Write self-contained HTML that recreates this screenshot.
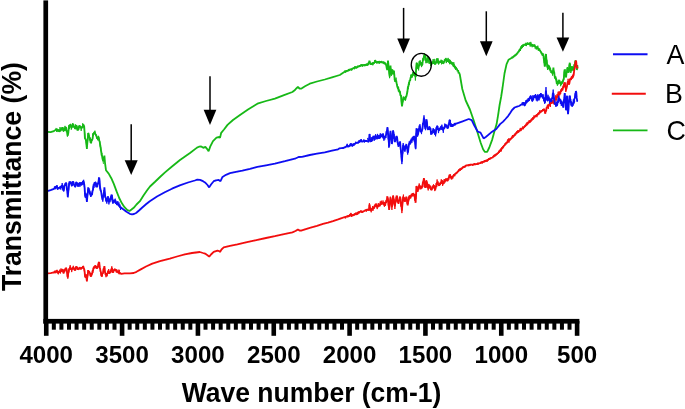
<!DOCTYPE html>
<html><head><meta charset="utf-8"><title>FTIR</title>
<style>
html,body{margin:0;padding:0;background:#fff;}
body{width:685px;height:409px;overflow:hidden;}
svg{display:block;will-change:transform;}
text{font-family:"Liberation Sans",sans-serif;fill:#000;}
</style></head><body>
<svg width="685" height="409" viewBox="0 0 685 409">
<defs><filter id="soft" x="0" y="0" width="685" height="409" filterUnits="userSpaceOnUse"><feGaussianBlur stdDeviation="0.35"/></filter><filter id="soft2" x="0" y="0" width="685" height="409" filterUnits="userSpaceOnUse"><feGaussianBlur stdDeviation="0.3"/></filter></defs>
<rect width="685" height="409" fill="#fff"/>
<g fill="none" stroke-linejoin="bevel" stroke-linecap="round" stroke-width="1.8" filter="url(#soft)">
<polyline stroke="#16b816" points="47.3,131.8 50.6,132.2 53.9,131.1 56.5,129.1 56.9,130.7 57.3,129.4 57.9,131.1 58.4,131.4 58.7,129.5 59.2,131.6 59.5,129.4 60.0,130.7 60.5,129.8 61.0,128.8 61.5,130.1 61.9,127.8 62.5,127.8 62.9,127.9 63.3,130.5 63.8,131.1 64.2,129.6 64.6,130.8 65.0,127.7 65.4,129.2 65.8,127.2 66.2,127.8 66.7,132.1 67.1,131.6 67.6,135.5 67.8,135.7 68.3,132.9 68.8,128.2 69.1,126.5 69.6,125.0 70.1,125.9 70.4,124.3 70.8,124.6 71.3,127.7 71.7,127.8 72.1,126.2 72.6,126.7 73.0,124.5 73.4,124.5 74.0,127.5 74.4,126.2 75.0,128.5 75.5,128.5 75.9,126.0 76.3,125.8 76.8,125.9 77.3,129.5 78.0,129.8 78.5,129.6 78.9,127.1 79.6,126.1 80.1,125.8 80.5,127.9 80.9,126.8 81.6,128.5 82.1,127.0 82.5,127.2 82.9,125.6 83.4,127.1 83.9,125.6 84.2,126.5 84.7,134.2 84.9,138.4 85.4,138.8 86.0,140.4 86.4,143.8 86.9,148.9 87.3,143.1 87.7,139.5 88.2,133.1 88.6,133.6 89.0,136.3 89.5,137.7 90.0,138.6 90.5,142.1 90.8,143.0 91.2,142.7 91.7,139.9 92.2,139.7 92.6,138.8 93.1,134.7 93.5,133.1 93.9,133.6 94.4,132.1 94.8,132.4 95.3,134.5 95.8,134.3 96.1,135.7 96.6,136.1 97.0,138.7 97.4,138.4 97.9,139.1 98.3,136.8 98.8,137.7 99.3,140.9 99.7,141.7 100.1,144.3 100.5,146.4 101.0,150.6 101.4,152.2 101.8,155.8 102.2,156.0 102.7,159.5 103.2,161.0 103.6,160.8 104.1,158.9 104.4,155.5 105.0,162.8 106.0,170.3 108.7,173.6 111.3,178.2 113.9,184.1 116.6,191.4 119.2,198.0 121.9,203.3 124.5,207.2 127.1,209.9 129.5,211.0 131.5,209.5 133.7,207.8 136.5,204.5 139.9,201.2 143.5,195.5 147.3,190.0 150.0,186.5 154.8,182.0 160.0,177.0 165.0,172.4 172.0,166.5 180.0,160.0 190.0,153.0 197.0,147.6 199.0,146.7 201.2,146.4 203.3,147.8 205.4,146.9 207.0,148.8 208.6,151.3 210.3,146.4 213.0,141.1 216.5,137.6 219.2,137.0 220.0,137.9 221.2,132.8 224.0,129.5 227.5,124.9 233.0,120.0 240.0,114.9 248.0,109.5 257.4,103.7 266.0,101.0 274.9,98.7 284.0,95.2 292.4,92.0 295.0,90.0 296.1,88.7 297.9,87.0 299.5,88.5 301.1,88.7 305.0,86.3 309.8,83.7 317.0,81.5 324.8,79.5 332.0,77.3 339.8,75.0 345.0,71.6 345.5,71.8 346.0,70.9 346.5,71.7 346.9,70.3 347.4,71.3 347.9,70.1 348.4,70.9 348.9,69.4 349.5,70.2 350.1,69.6 350.5,69.2 351.1,69.8 351.7,68.6 352.2,69.4 352.7,68.1 353.1,68.7 353.6,67.6 354.1,68.7 354.6,67.4 355.1,67.6 355.7,66.9 356.1,67.6 356.7,66.8 357.1,67.7 357.6,66.5 358.0,67.0 358.6,66.2 359.2,66.7 359.8,65.5 360.1,66.0 360.6,65.6 361.1,66.0 361.5,65.0 361.9,66.1 362.4,65.1 362.8,66.0 363.4,64.5 363.9,65.4 364.4,64.3 364.9,65.4 365.1,64.8 365.6,65.1 366.0,64.4 366.5,65.4 366.9,64.1 367.5,65.2 368.1,64.5 368.6,62.8 369.1,62.2 369.4,60.8 369.9,62.7 370.4,63.5 370.6,64.5 371.0,63.8 371.5,64.4 372.0,63.6 372.5,64.2 373.1,63.5 373.5,63.9 373.9,62.3 374.3,62.8 374.9,61.5 375.1,60.0 375.5,61.7 376.1,62.5 376.7,61.7 377.1,62.7 377.7,61.6 378.2,62.8 378.8,61.5 379.1,62.0 379.6,61.5 380.1,62.5 380.5,61.5 381.1,62.8 381.6,61.8 382.2,62.5 382.7,62.2 383.1,63.2 383.6,62.3 384.0,63.3 384.4,62.6 384.7,63.0 385.3,63.3 385.8,64.8 386.2,65.0 386.7,68.1 387.2,70.0 387.7,64.0 388.0,60.5 388.4,64.4 388.7,68.0 389.2,73.2 389.7,76.6 390.1,70.5 390.5,65.5 390.9,70.7 391.4,74.6 391.9,73.0 392.4,69.6 392.9,73.6 393.2,74.1 393.9,70.6 394.3,74.6 394.7,80.1 395.2,79.2 395.7,81.2 396.2,80.6 396.6,83.2 397.2,86.0 397.7,87.9 398.2,87.0 398.6,90.4 399.0,90.1 399.5,92.4 400.0,91.7 400.4,95.6 400.9,95.0 401.1,96.3 401.5,102.0 402.0,106.5 402.5,102.8 402.9,101.4 403.4,97.2 403.8,96.9 404.1,99.4 404.6,97.8 405.1,99.8 405.5,99.1 406.0,96.1 406.5,96.4 406.9,93.7 407.4,91.8 407.9,86.9 408.4,86.4 408.7,84.0 409.1,83.4 409.6,80.4 410.1,80.9 410.6,77.5 411.1,77.7 411.3,76.1 411.8,74.7 412.1,76.2 412.6,74.0 413.0,75.6 413.5,72.9 413.9,73.4 414.3,73.8 414.7,76.1 415.3,74.9 415.7,77.0 416.2,67.3 416.6,62.9 417.1,65.2 417.5,64.6 417.9,67.9 418.3,68.2 418.7,65.9 419.2,66.0 419.7,61.9 420.1,62.0 420.5,63.9 421.0,62.7 421.5,65.7 421.9,65.5 422.4,64.3 422.9,59.5 423.4,59.4 423.6,57.6 424.1,57.7 424.5,54.7 425.0,55.0 425.4,56.1 425.9,60.3 426.3,61.1 426.8,59.5 427.3,60.8 427.7,58.0 428.1,58.6 428.5,58.2 428.9,60.9 429.5,61.7 430.0,61.4 430.4,63.7 430.8,63.5 431.3,64.1 431.8,62.4 432.4,62.9 432.8,63.8 433.2,61.4 433.7,62.7 434.0,61.3 434.4,63.3 434.8,62.5 435.2,64.5 435.7,62.0 436.1,63.3 436.5,59.3 436.9,59.5 437.4,59.3 437.8,61.5 438.2,60.8 438.7,62.4 439.1,63.4 439.5,61.5 439.9,62.8 440.3,61.1 440.7,62.6 441.3,61.3 441.7,60.5 442.2,63.4 442.7,61.7 443.2,63.5 443.5,63.2 443.9,61.5 444.3,62.3 444.7,59.6 445.3,59.7 445.8,58.7 446.2,61.1 446.7,58.9 447.1,61.6 447.5,60.6 447.9,59.7 448.4,61.8 449.0,59.9 449.3,62.6 449.7,60.7 450.1,61.5 450.5,61.2 450.9,63.5 451.4,62.2 451.8,64.3 452.2,62.7 452.6,64.3 452.8,64.0 453.3,65.7 453.8,64.2 454.2,66.9 454.5,66.2 455.0,66.3 455.5,68.6 455.9,67.1 456.4,69.7 456.8,68.4 457.2,69.8 457.6,71.4 458.1,70.2 458.6,73.4 459.1,72.5 459.8,74.5 462.3,89.0 465.7,100.5 469.9,109.5 473.2,119.0 477.0,130.8 480.5,142.2 483.1,149.3 484.9,151.9 487.2,151.9 489.3,147.5 492.2,139.6 494.4,131.5 496.6,124.1 498.1,115.1 499.6,105.0 501.1,97.0 502.5,88.0 504.5,73.5 506.5,64.4 508.6,59.7 511.9,57.7 512.3,58.0 512.9,56.8 513.3,57.4 513.8,56.0 514.4,56.3 514.9,55.2 515.3,55.8 515.8,55.1 516.4,53.9 516.8,54.4 517.2,53.0 517.7,53.2 518.2,51.7 518.7,51.9 519.3,50.1 519.8,49.8 520.2,49.6 520.7,47.9 521.3,48.2 521.7,46.6 522.2,47.1 522.8,45.0 523.1,45.2 523.6,45.7 524.1,44.6 524.5,45.2 525.0,44.2 525.5,44.7 526.0,43.8 526.4,44.2 526.9,43.8 527.4,44.6 527.9,43.8 528.5,44.4 528.7,44.0 529.1,44.5 529.7,43.4 530.3,44.8 531.0,44.2 531.6,44.8 532.1,44.3 532.7,45.7 533.2,44.8 533.7,46.3 534.3,46.0 534.8,45.6 535.3,46.9 535.7,46.3 536.2,47.8 536.7,47.0 537.2,48.0 537.6,48.0 538.1,48.3 538.6,49.6 539.1,49.4 539.5,50.8 540.0,50.5 540.6,51.7 540.9,51.8 541.5,53.2 542.0,53.3 542.6,55.5 543.1,55.2 543.5,56.4 544.8,66.6 545.3,62.7 545.8,54.8 546.0,54.0 546.4,59.2 546.8,61.2 547.2,66.5 547.7,67.6 548.0,65.0 548.4,67.1 548.8,66.3 549.3,66.7 549.6,69.7 550.1,67.7 550.5,71.4 550.8,70.9 551.2,72.8 551.7,71.0 552.2,73.4 552.6,73.0 553.0,71.3 553.4,67.6 553.8,71.7 554.2,72.1 554.7,76.5 555.1,78.7 555.6,76.6 555.8,78.5 556.3,79.4 556.7,83.4 557.0,83.5 557.4,81.8 557.8,83.2 558.2,81.1 558.6,81.0 559.0,82.6 559.4,80.2 559.7,83.2 560.0,82.4 560.5,81.8 561.0,84.0 561.5,82.2 562.1,83.5 562.5,81.1 562.8,82.3 563.2,79.7 563.5,80.0 563.9,77.7 564.3,71.7 564.6,69.7 565.0,72.7 565.5,72.6 565.9,77.0 566.1,77.0 566.5,72.9 566.9,72.0 567.4,67.5 567.9,70.8 568.2,70.1 568.6,72.6 569.0,71.0 569.3,65.1 569.8,62.8 570.2,66.5 570.6,67.8 570.9,70.8 571.4,68.3 572.0,67.6 572.4,67.0 572.8,70.2 573.3,70.0 573.8,69.0 574.5,64.0 574.9,64.1 575.3,60.6 575.7,61.2 576.1,65.0 576.4,65.9 576.9,70.0 577.5,66.0"/>
<polyline stroke="#16b816" stroke-width="1.0" points="56.0,128.3 56.5,131.8 57.0,128.5 57.5,131.2 58.0,129.3 58.6,131.3 59.1,130.0 59.7,132.1 60.0,127.1 60.7,131.4 61.2,128.5 61.6,130.2 61.9,127.7 62.3,128.4 62.8,127.4 63.4,131.6 64.0,129.4 64.5,130.9 65.0,125.9 65.6,130.0 66.2,127.9 66.6,131.4 67.0,130.0 67.4,136.6 67.9,132.2 68.5,131.2 68.9,125.2 69.4,128.9 69.9,124.7 70.4,126.5 70.8,125.0 71.3,129.6 71.9,126.8 72.3,126.8 72.7,123.1 73.1,126.1 73.5,124.9 74.1,127.3 74.7,127.3 75.1,128.9 75.6,124.4 76.2,127.0 76.8,126.2 77.2,130.5 77.8,128.8 78.4,129.5 78.9,125.6 79.3,127.6 79.7,125.7 80.2,127.6 80.7,126.4 81.2,130.9 81.7,126.7 82.3,127.5 82.7,123.3 83.3,126.7 83.7,124.1 84.4,129.8 85.0,136.0 85.5,140.7 85.9,139.8 86.5,146.3 87.1,145.6 87.7,140.8 88.1,133.2 88.7,135.4 89.1,134.9 89.7,140.3 90.2,137.7 90.6,142.5 91.0,141.3 91.4,142.3 91.8,139.0 92.2,140.6 92.8,133.5 93.4,135.6 93.9,132.3 94.3,133.1 94.9,130.7 95.5,134.7 96.1,134.3 96.6,137.7 97.3,137.7 97.8,140.3 98.4,135.8 99.0,140.9 99.6,140.9 100.2,147.4 100.8,147.3 101.4,154.5 101.9,153.2 102.4,159.2 102.9,159.3 103.4,163.5"/><polyline stroke="#16b816" stroke-width="1.0" points="345.0,70.4 345.6,72.6 346.2,70.4 346.9,71.2 347.6,70.3 348.2,71.1 348.7,69.0 349.3,70.9 350.1,69.1 350.5,70.0 351.2,68.8 351.7,70.6 352.3,68.0 353.1,69.0 353.7,67.7 354.3,69.3 355.0,66.1 355.6,68.4 356.1,66.9 356.7,68.5 357.5,65.7 358.2,67.1 358.7,65.7 359.2,66.7 359.8,65.1 360.4,66.5 361.1,64.0 361.7,65.9 362.1,64.0 362.6,66.6 363.2,64.7 363.9,65.4 364.4,64.2 364.8,66.3 365.3,64.4 365.7,65.8 366.3,63.6 367.0,66.0 367.7,63.4 368.2,64.9 368.7,62.5 369.3,62.3 369.8,61.5 370.3,64.8 370.9,63.4 371.6,64.7 372.3,62.2 372.8,65.3 373.5,62.9 374.0,64.0 374.8,60.4 375.4,62.3 376.1,60.8 376.7,63.5 377.2,61.1 377.9,63.3 378.6,61.7 379.3,63.8 380.1,61.3 380.8,62.8 381.6,60.9 382.1,62.8 382.7,61.7 383.4,63.5 383.8,61.4 384.3,64.3 384.7,62.5 385.4,64.3 385.9,63.8"/><polyline stroke="#16b816" stroke-width="1.0" points="389.0,68.2 389.6,78.2 390.1,68.9 390.4,67.2 390.9,69.1 391.5,75.8 392.0,69.1 392.5,71.2 393.0,70.5 393.6,72.7 394.2,71.5 394.7,81.7 395.1,78.8 395.6,82.1 396.0,77.6 396.5,83.3 397.1,83.9 397.6,88.8 398.0,86.3 398.4,91.6 399.1,89.5 399.6,92.3 400.0,90.8 400.7,96.3 401.1,95.6 401.6,105.1 402.0,104.1 402.4,104.6 402.8,99.3 403.2,99.2 403.8,97.2 404.4,99.2 404.9,98.7 405.3,100.7 405.7,96.6 406.2,97.4 406.6,94.0 407.2,94.1 407.7,87.1 408.2,89.2 408.6,82.4 409.2,85.1 409.7,80.2 410.3,79.9 410.9,74.6 411.3,76.8 411.9,74.7 412.3,77.5 412.7,72.4"/><polyline stroke="#16b816" stroke-width="1.0" points="414.0,72.1 414.5,75.2 414.9,72.7 415.4,80.5 415.8,73.9 416.3,69.6 416.8,62.6 417.1,65.3 417.5,63.5 417.9,69.1 418.3,67.2 418.6,70.4 419.2,61.2 419.6,64.6 420.1,60.3 420.7,64.4 421.1,62.0 421.5,67.1 421.8,62.7 422.4,64.2 422.8,58.3 423.2,60.2 423.6,55.6 423.9,60.6 424.5,53.3 425.0,57.4 425.4,54.7 425.9,63.2 426.4,59.8 427.0,63.1 427.5,56.2 427.9,62.5 428.5,56.7 429.0,63.6 429.4,58.7 429.8,63.4 430.2,62.0 430.6,65.7"/><polyline stroke="#16b816" stroke-width="1.0" points="431.0,62.7 431.6,65.0 432.1,61.2 432.6,64.1 433.1,59.2 433.6,63.6 434.2,58.9 434.6,64.4 435.1,63.5 435.6,63.8 436.0,61.1 436.4,61.8 437.0,58.2 437.5,63.3 438.0,58.3 438.6,64.5 438.9,60.7 439.5,62.5 440.1,61.2 440.6,62.2 441.1,59.7 441.5,64.3 442.0,60.5 442.5,63.4 442.9,60.9 443.5,64.0 444.0,61.3 444.4,62.2 444.7,60.2 445.3,60.8 445.9,57.9 446.3,63.1 446.9,59.9 447.6,61.8 448.1,57.9 448.5,62.4 449.1,59.1 449.6,64.2 450.2,59.9 450.6,63.7 451.1,61.7 451.4,64.2 451.8,61.9 452.4,64.8 452.8,62.4 453.3,66.8 453.8,62.3 454.4,68.1 454.8,66.1 455.5,69.7 456.0,67.2"/><polyline stroke="#16b816" stroke-width="1.0" points="512.0,56.9 512.6,57.9 513.3,55.9 513.8,56.8 514.5,54.9 515.3,55.6 515.7,54.8 516.3,55.1 516.7,53.3 517.2,53.5 517.9,51.8 518.5,51.9 519.1,50.5 519.6,50.9"/><polyline stroke="#16b816" stroke-width="1.0" points="520.0,49.1 520.4,51.0 520.9,46.4 521.3,48.7 521.8,45.1 522.2,48.0 522.9,44.7 523.4,46.9 524.0,43.9 524.5,45.2 525.1,44.2 525.5,45.8 526.0,42.7 526.4,46.1 526.8,43.6 527.3,44.6 527.8,42.3 528.3,44.8 528.7,43.1 529.3,44.9 529.7,42.4 530.2,46.5 530.8,41.9 531.3,46.3 531.7,43.8 532.2,47.2 532.8,44.5 533.3,46.3 533.7,44.8 534.2,46.5 534.7,44.3 535.2,48.7 535.8,46.3 536.3,49.5 536.8,47.1 537.3,49.1 537.8,45.7 538.3,50.8 538.7,48.0 539.3,50.4 539.7,48.6 540.3,51.5 540.8,51.2 541.4,54.2 541.8,52.8 542.4,55.7 543.0,54.6"/><polyline stroke="#16b816" stroke-width="1.0" points="543.6,53.7 544.2,63.1 544.7,63.1 545.2,65.4 545.7,54.3 546.2,59.5 546.8,59.9 547.5,69.9 548.0,64.7 548.6,69.1 549.0,65.5 549.4,70.2 550.1,68.0 550.5,71.0 551.0,70.1 551.6,72.4 552.0,71.7 552.6,75.6 553.0,69.8 553.5,70.0 554.1,71.8 554.5,75.8 554.9,76.0 555.5,79.8 555.9,78.0 556.3,81.4 556.9,82.0 557.4,85.7 557.9,81.1 558.5,84.3 559.0,79.6 559.6,83.6 560.0,81.9 560.7,86.2 561.1,82.2 561.6,84.7 562.3,80.9 562.7,82.6 563.2,79.6 563.8,79.8 564.3,71.7 564.7,71.3 565.1,69.3 565.6,76.8 566.3,74.7 566.8,72.6 567.4,67.1 568.0,72.9 568.6,71.9 569.0,71.7 569.4,64.7 569.9,66.7 570.4,64.2 570.8,73.0 571.3,66.4 571.7,71.3 572.1,66.0 572.6,69.5 573.2,68.8 573.7,68.8 574.1,64.5 574.7,64.8"/>
<polyline stroke="#f20c0c" points="47.3,273.4 50.6,273.1 53.9,272.4 54.3,272.9 54.8,271.1 55.1,272.2 55.7,270.9 56.1,272.5 56.5,271.1 57.0,270.7 57.4,272.8 57.9,272.4 58.4,273.2 58.7,271.1 59.2,272.6 59.6,270.7 60.0,272.6 60.5,271.4 61.0,271.7 61.5,269.8 62.0,271.3 62.5,269.8 62.9,270.0 63.5,273.4 64.0,271.1 64.4,271.3 64.8,269.4 65.3,270.2 65.8,267.9 66.4,268.8 66.9,270.6 67.4,276.1 67.8,277.3 68.3,273.0 68.8,271.7 69.1,268.8 69.6,268.7 70.1,267.0 70.4,267.4 70.8,269.4 71.2,268.1 71.7,270.1 72.2,268.1 72.7,269.0 73.0,267.7 73.4,267.3 73.8,269.2 74.2,268.3 74.6,270.1 75.0,270.1 75.4,270.2 75.8,267.2 76.3,266.8 76.8,268.4 77.2,267.1 77.7,269.7 78.0,269.4 78.4,267.9 78.9,269.6 79.2,267.7 79.6,268.1 80.0,269.1 80.3,267.4 80.8,269.5 81.2,267.7 81.6,268.8 82.0,267.2 82.5,267.8 82.9,266.4 83.4,266.6 83.8,268.7 84.2,268.8 84.6,271.3 85.0,276.3 85.2,277.3 85.6,274.9 86.0,274.7 86.4,276.6 86.9,281.3 87.3,276.6 87.8,275.0 88.2,270.1 88.6,272.1 89.1,271.2 89.5,272.7 90.0,272.8 90.5,275.7 90.8,276.0 91.3,276.1 91.7,273.8 92.2,273.4 92.7,270.7 93.1,270.3 93.5,268.1 94.0,266.9 94.6,267.6 95.2,265.5 95.6,267.4 96.0,265.9 96.5,268.6 96.8,268.1 97.2,266.7 97.6,267.4 98.1,265.5 98.6,262.9 99.2,262.2 99.7,267.2 100.1,268.8 100.5,271.4 100.9,272.2 101.4,276.0 101.8,276.0 102.3,273.7 102.7,273.4 103.1,272.2 103.5,268.9 104.0,268.2 104.4,266.1 104.9,271.3 105.4,274.0 105.9,275.0 106.3,274.3 106.7,275.4 107.1,273.2 107.5,273.7 107.9,271.6 108.4,270.7 108.9,272.8 109.3,273.4 109.7,272.1 110.2,272.9 110.6,271.4 111.0,269.7 111.5,269.8 111.7,268.1 112.1,268.6 112.5,271.9 112.9,272.1 113.4,272.1 113.8,269.8 114.3,270.6 114.6,269.4 115.0,269.0 115.5,270.8 116.0,270.0 116.6,271.4 117.1,270.4 117.6,272.3 118.1,271.3 118.6,272.9 119.2,272.1 119.7,273.5 120.2,272.4 120.6,273.7 121.2,273.8 124.5,273.4 129.8,273.3 133.7,273.0 136.5,271.8 139.9,269.9 146.0,266.5 152.3,263.6 160.0,261.2 169.8,258.6 177.0,256.5 184.8,254.4 192.0,253.0 199.8,252.0 203.0,253.0 205.0,253.6 207.5,255.3 209.2,256.6 211.0,254.5 213.7,251.9 217.5,250.6 219.0,251.0 220.0,251.9 221.5,249.5 223.7,247.4 230.0,245.8 237.4,244.4 247.0,242.2 257.4,239.9 266.0,238.0 274.9,236.2 284.0,234.2 292.4,232.4 295.5,231.0 297.9,229.4 299.5,230.5 301.1,230.7 305.0,229.4 309.8,227.9 317.0,225.9 323.0,223.9 328.0,222.6 333.0,221.1 338.1,219.4 343.1,217.6 343.7,217.2 344.1,217.9 344.5,217.0 345.1,217.3 345.6,216.4 346.2,217.2 346.7,216.0 347.1,216.9 347.6,215.7 348.1,216.1 348.6,216.2 349.1,215.4 349.7,216.0 350.1,215.6 350.6,213.9 351.2,214.5 351.6,215.6 352.1,215.2 352.6,215.8 353.1,214.6 353.5,215.4 354.0,214.2 354.5,214.9 355.1,213.7 355.6,214.1 356.0,214.5 356.5,213.3 357.1,213.8 357.5,213.0 358.1,213.1 358.6,212.3 359.2,212.7 359.7,211.7 360.3,212.1 360.7,211.1 361.1,211.1 361.6,211.3 362.1,212.1 362.6,212.1 363.2,211.2 363.7,211.7 364.2,210.5 364.8,211.2 365.1,210.6 365.7,209.8 366.3,210.4 366.7,209.5 367.1,209.6 368.7,210.1 369.2,208.1 369.5,204.5 369.9,206.9 370.2,210.1 370.7,210.6 371.2,208.7 371.7,210.5 372.0,208.4 372.7,208.6 373.1,207.2 373.6,208.5 374.2,207.6 374.6,205.6 375.1,206.3 375.4,204.0 375.9,204.3 376.3,206.8 376.7,207.0 377.2,205.0 377.7,207.3 378.2,205.5 378.6,206.5 379.1,204.3 379.6,206.3 380.0,204.6 380.5,203.1 380.9,204.9 381.4,202.2 381.7,202.9 382.2,203.8 382.7,202.2 383.0,203.5 383.5,203.1 384.0,205.4 384.3,204.5 384.8,203.2 385.2,204.3 385.7,202.0 386.1,202.8 386.6,199.8 387.0,200.1 387.5,196.6 388.0,199.0 388.4,204.7 388.8,206.3 389.1,209.8 389.5,206.7 389.9,201.9 390.5,197.5 391.0,201.7 391.4,202.8 391.9,207.2 392.4,203.4 392.8,197.7 393.1,195.7 393.6,199.1 394.0,199.5 394.3,204.2 394.9,206.3 395.4,201.9 395.9,201.2 396.6,195.7 397.1,196.5 397.5,200.9 398.0,201.5 398.4,203.7 398.9,200.7 399.3,200.6 399.8,197.4 400.1,196.6 400.6,199.3 401.1,205.9 401.5,206.2 401.9,210.7 402.3,205.6 402.6,203.0 403.1,196.6 403.5,198.8 403.9,197.2 404.4,201.1 404.9,201.0 405.4,198.1 405.9,199.2 406.3,196.6 406.8,199.1 407.2,202.6 407.7,205.4 408.1,201.6 408.5,200.8 408.9,197.5 409.3,196.0 409.7,197.6 410.3,195.4 410.7,197.2 411.2,194.9 411.6,195.7 412.0,194.2 412.3,196.2 412.7,194.2 413.1,195.6 413.5,193.9 413.9,194.9 414.2,194.0 414.6,195.4 415.0,200.3 415.4,200.5 415.6,202.8 416.0,196.8 416.5,186.1 416.9,186.9 417.4,190.5 417.7,191.3 418.2,188.3 418.6,189.6 419.0,186.0 419.5,185.2 420.0,187.5 420.4,186.6 420.7,188.7 421.2,187.6 421.5,188.4 422.1,187.0 422.5,186.6 422.9,181.8 423.3,182.4 423.9,178.2 424.4,181.0 424.9,186.5 425.3,187.8 425.7,186.0 426.1,182.0 426.5,180.8 427.0,182.4 427.5,187.6 427.8,187.8 428.3,186.5 428.7,188.4 429.2,186.0 429.6,187.7 430.1,186.1 430.6,186.5 431.0,189.9 431.3,189.6 431.7,190.1 432.1,187.6 432.6,188.7 433.2,185.4 433.6,186.1 434.1,187.7 434.5,187.0 435.0,189.7 435.3,188.7 435.8,186.5 436.2,186.3 436.6,183.6 437.1,182.6 437.6,182.5 438.1,184.8 438.6,183.8 438.9,185.2 439.4,185.6 439.8,183.3 440.1,184.9 440.5,182.5 441.1,183.0 441.5,181.7 441.9,181.3 442.4,183.7 442.9,181.7 443.3,183.4 443.7,183.6 444.1,180.7 444.6,182.6 445.0,179.5 445.4,181.1 445.9,179.0 446.3,178.8 446.8,181.1 447.2,179.2 447.7,180.8 448.1,178.2 448.5,179.4 448.9,176.7 449.3,177.8 449.9,174.6 450.4,177.2 450.9,176.4 451.2,178.2 451.7,179.1 452.2,175.9 452.6,178.3 453.1,175.5 453.7,176.4 454.0,174.1 454.5,176.0 454.9,173.9 455.6,173.8 459.0,170.5 459.5,169.7 460.0,170.3 460.5,169.0 460.9,169.4 461.3,168.3 461.9,168.7 462.6,167.6 463.2,167.7 463.6,166.7 464.1,167.3 464.6,166.1 465.2,166.6 465.7,165.3 466.0,165.8 466.5,165.1 466.9,165.9 467.4,165.0 467.8,165.6 468.2,164.6 468.7,165.8 469.3,164.3 469.7,165.2 469.9,164.8 470.4,164.5 470.9,165.0 471.4,164.3 471.9,165.1 472.4,164.3 472.9,165.1 473.5,164.5 474.1,164.8 474.5,163.8 475.1,164.8 475.6,163.8 476.1,164.6 476.5,163.7 477.0,164.2 477.6,163.5 478.2,164.4 478.7,163.2 479.2,163.8 479.6,162.7 480.2,163.6 480.5,163.0 481.0,162.2 481.5,163.3 481.9,162.1 482.4,162.7 483.0,161.4 483.6,162.3 484.0,161.6 484.5,161.8 485.0,160.6 485.6,161.2 486.1,160.3 486.6,161.1 487.2,159.6 487.6,160.7 488.1,159.4 488.5,159.6 489.0,158.7 489.6,159.4 490.0,158.4 490.5,158.9 491.1,157.9 491.5,158.3 491.9,157.2 492.5,158.0 492.8,157.2 493.4,156.4 494.0,156.6 494.4,155.5 494.9,156.1 495.3,154.9 495.9,155.1 496.5,154.3 496.9,154.4 497.5,153.0 497.9,153.5 498.3,152.2 498.9,152.6 499.3,150.8 499.8,151.0 500.3,150.0 500.9,150.1 501.3,148.9 501.7,149.1 502.3,147.7 502.7,148.1 503.5,146.5 504.1,145.3 504.7,145.5 505.2,143.9 505.6,144.2 506.2,142.5 506.7,142.9 506.9,142.2 507.4,142.4 507.8,140.9 508.4,141.5 508.9,139.8 509.4,140.3 509.9,139.2 510.3,139.9 510.5,139.0 511.1,138.2 511.6,138.5 512.2,136.7 512.8,137.3 513.2,135.8 513.7,136.2 513.9,135.6 514.4,135.5 514.8,134.2 515.3,134.8 516.1,133.3 516.7,133.2 517.3,132.0 517.7,132.5 518.2,131.3 518.8,131.6 519.4,130.3 519.9,130.9 520.4,129.3 520.9,129.6 521.4,129.5 521.9,128.1 522.4,128.6 523.0,127.4 523.6,127.7 524.2,126.8 524.7,126.8 525.3,125.2 525.8,125.7 526.3,124.5 526.7,125.0 527.3,123.4 527.7,123.8 528.2,122.5 528.6,122.9 529.1,121.9 529.5,122.3 530.2,121.2 530.7,121.3 531.3,119.5 531.8,120.3 532.2,118.6 532.7,119.3 533.2,117.9 533.7,118.5 534.2,117.1 534.6,117.4 535.0,115.9 535.6,116.0 536.1,115.1 536.5,115.7 537.1,114.3 537.5,115.1 538.0,113.7 538.5,114.2 539.1,112.8 539.5,113.2 540.0,111.7 540.6,112.3 540.9,111.6 541.4,111.6 541.9,110.7 542.4,110.9 543.0,109.8 543.5,110.3 544.0,109.3 544.2,109.6 545.3,113.6 545.7,110.3 546.2,111.2 546.5,107.8 546.8,107.6 547.2,108.4 547.6,105.3 548.0,107.6 548.5,104.8 548.8,106.2 549.2,104.0 549.7,104.9 550.1,103.7 550.6,101.8 551.0,103.8 551.4,102.2 551.8,103.4 552.3,100.7 552.8,101.7 553.2,100.5 553.6,101.6 554.0,99.3 554.4,100.6 554.8,98.2 555.2,100.2 555.5,97.2 556.0,98.7 556.4,96.4 556.7,97.1 557.1,97.5 557.5,94.7 558.0,96.5 558.4,94.0 558.9,95.5 559.3,92.3 559.8,94.0 560.3,91.3 560.7,91.8 561.2,89.8 561.6,91.1 562.0,88.3 562.4,90.3 562.9,87.4 563.3,87.8 563.7,87.0 564.1,83.5 564.7,82.6 565.1,86.4 565.5,86.0 566.0,90.5 566.5,87.9 567.0,86.0 567.5,82.7 568.0,81.2 568.4,83.6 568.8,83.1 569.0,84.5 569.4,83.2 569.9,79.9 570.3,78.4 570.6,79.8 571.0,78.0 571.3,78.5 571.7,76.8 572.2,78.7 572.6,76.6 573.0,74.7 573.4,76.1 573.8,73.5 574.3,69.8 574.8,68.0 575.3,63.2 575.8,60.7 576.2,61.6 576.6,66.0 577.1,67.6 577.5,67.8"/>
<polyline stroke="#f20c0c" stroke-width="1.0" points="55.0,271.2 55.6,273.2 56.2,270.7 56.6,271.7 57.0,269.8 57.4,273.2 57.8,271.6 58.3,274.3 58.8,271.7 59.2,272.4 59.9,269.6 60.4,273.5 61.0,268.5 61.6,271.2 62.2,268.9 62.8,272.2 63.3,271.7 63.7,273.4 64.1,269.4 64.7,272.2 65.3,267.9 65.9,269.5 66.4,267.8 66.8,271.9 67.3,273.7 67.8,278.7 68.3,273.7 68.8,271.6 69.2,268.1 69.7,268.6 70.2,265.2 70.7,269.7 71.3,268.8 71.7,272.1 72.3,267.5 72.7,269.3 73.3,265.8 73.9,269.4 74.5,268.6 75.1,270.5 75.7,266.9 76.3,267.5 76.8,266.2 77.3,269.2 77.9,268.4 78.3,269.7 78.9,268.2 79.3,268.8 79.9,266.9 80.4,268.8 80.8,267.7 81.2,269.1 81.9,267.8 82.3,268.2 82.8,266.1 83.3,268.1 83.9,267.9 84.4,271.5 85.0,274.6 85.5,277.9 86.0,274.4 86.5,280.4 87.0,279.5 87.6,277.5 88.0,270.3 88.5,271.3 88.9,270.9 89.4,272.8 89.8,273.1 90.4,276.4 90.8,274.0 91.2,276.4 91.7,273.5 92.1,274.6 92.5,270.0 92.9,272.6 93.3,268.1 93.8,268.1 94.2,266.2 94.6,268.5 95.3,265.2 95.8,267.0 96.4,266.6 97.0,269.0 97.4,266.5 97.8,268.2 98.2,264.0 98.7,264.6 99.3,262.1 99.8,268.5 100.5,269.6 101.1,275.3 101.6,274.1 102.2,276.6 102.6,273.1 103.1,273.6 103.6,268.7 104.3,267.4 104.6,267.6 105.0,272.6 105.4,272.1 106.0,277.2 106.6,274.3 107.1,276.3 107.7,271.9 108.3,271.6 108.7,269.0 109.2,273.8 109.8,271.6 110.1,272.5 110.6,270.6 111.2,270.3 111.8,266.3 112.3,272.6 112.9,270.8 113.3,272.6 113.9,269.3 114.3,270.8 114.8,269.0 115.3,270.5 115.9,270.2 116.3,272.5 116.7,269.2 117.2,272.8 117.8,271.1 118.4,273.4 118.9,269.6 119.2,274.3 119.6,270.4"/><polyline stroke="#f20c0c" stroke-width="1.0" points="345.0,216.8 345.6,218.4 346.1,216.0 346.8,216.9 347.4,216.1 347.9,217.4 348.5,215.6 348.9,217.0 349.5,214.2 350.2,215.6 350.9,212.9 351.6,216.9 352.3,214.2 353.0,216.0 353.5,214.6 354.2,215.6 354.6,213.5 355.2,215.0 355.9,212.5 356.5,215.1 357.1,212.6 357.7,214.8 358.3,211.4 358.8,213.7 359.5,211.1 360.1,212.1 360.7,210.7 361.4,212.7 362.2,211.4 362.7,212.6 363.4,211.1 363.9,211.5 364.5,210.4 365.2,210.9 366.0,209.7 366.5,211.6 366.9,209.4"/><polyline stroke="#f20c0c" stroke-width="1.0" points="367.6,209.2 368.1,210.7 368.5,209.5 369.0,208.4 369.4,203.2 370.1,211.0 370.6,207.6 371.2,212.3 371.6,208.7 372.1,210.5 372.6,206.1 373.1,210.6 373.5,206.7 374.0,208.7 374.5,205.1 375.1,205.8 375.7,204.0 376.2,206.6 376.8,203.6 377.2,209.1 377.7,205.0 378.0,207.0 378.4,203.2 378.9,206.4 379.5,204.0 380.0,205.8 380.3,201.4 380.7,204.5 381.3,200.7 381.8,204.2 382.1,202.6 382.7,204.2 383.0,200.5 383.4,205.0 384.0,201.9 384.4,206.8 384.9,202.0 385.5,205.9 386.0,200.4 386.5,202.5 387.1,196.3 387.6,197.9 388.2,201.2 388.7,207.2 389.2,207.8 389.8,205.6 390.3,196.7 390.8,201.1 391.4,201.2 391.9,209.9 392.4,200.2 392.9,198.9 393.3,195.6 394.0,201.3 394.4,201.1 394.9,209.0 395.3,201.4 395.8,202.6 396.1,197.3 396.7,198.6 397.3,197.3 397.6,202.4 398.1,200.1 398.6,204.0 399.2,199.5 399.9,198.1 400.5,198.1 401.0,206.8 401.5,206.1 401.9,213.1 402.4,203.8 402.8,201.4 403.4,194.6 403.9,199.1 404.5,199.3 405.1,201.9 405.7,197.7 406.3,199.0 406.7,197.2 407.1,203.9 407.8,203.0 408.2,203.7 408.7,197.6 409.1,199.7 409.4,195.5 409.8,198.6 410.2,196.1 410.7,198.5 411.4,193.7 412.0,196.1 412.5,193.1 412.9,195.5 413.4,192.9 414.0,196.4 414.5,195.1 415.0,200.8 415.4,199.9 415.9,198.9 416.3,186.5 416.7,188.5 417.2,186.8 417.7,192.0 418.3,187.8 418.7,188.7 419.2,183.5 419.8,186.5 420.4,185.9 420.8,189.4 421.3,185.8 421.7,188.1 422.4,184.4 422.7,186.9 423.1,180.9 423.6,181.5 424.3,180.0 424.8,187.2 425.3,185.4 425.8,187.3 426.4,180.3 427.0,184.5 427.6,184.2 428.2,190.4 428.7,183.9 429.1,188.6 429.5,184.7 430.1,187.1 430.6,186.4 431.1,189.6 431.6,188.0 431.9,189.6 432.6,186.2 433.1,188.1 433.5,184.3 433.9,187.2 434.5,185.3 434.8,191.1 435.2,187.8 435.6,190.2 436.2,183.3 436.7,187.1 437.1,179.5 437.4,183.8 438.0,181.4 438.6,185.6 439.2,183.3 439.6,184.9 440.2,182.9 440.6,184.0 441.3,179.3 441.9,184.0 442.2,180.0 442.6,185.9 443.3,182.8 443.8,183.4 444.2,179.0 444.7,182.0 445.2,179.6 445.7,181.4 446.3,178.8 446.9,180.6 447.3,179.4 447.7,181.3 448.3,177.9 448.7,179.6 449.1,174.8 449.7,176.6 450.2,174.2 450.6,177.9 451.0,176.8 451.6,179.3 452.0,176.8"/><polyline stroke="#f20c0c" stroke-width="1.0" points="456.0,172.9 456.7,173.6 457.4,171.6 458.0,172.0 458.6,169.5 459.1,170.8 459.8,168.5 460.5,170.5 461.0,167.9 461.4,169.8 462.0,167.4 462.6,167.9 463.2,166.0 463.8,167.6 464.4,166.3 464.9,167.6 465.7,165.5 466.2,166.2 466.9,165.2 467.4,165.9 467.8,165.0 468.3,166.1 469.1,164.6 469.6,165.7 470.1,164.5 470.7,165.4 471.2,164.1 471.7,165.0 472.1,164.2 472.6,165.7 473.0,164.0 473.5,164.8 474.2,163.0 475.0,164.8 475.6,163.7 476.0,164.9 476.7,163.7 477.4,164.7 477.9,162.6 478.5,164.1 479.3,162.8 479.9,163.8 480.6,161.9 481.2,163.2 481.9,161.2 482.5,163.4 483.2,161.4 483.7,162.1 484.2,160.2 484.8,161.5 485.3,160.5 486.0,162.0 486.7,160.0 487.3,161.6 487.8,159.0 488.2,160.4 488.9,158.1 489.6,160.0 490.2,157.4 490.9,158.5 491.5,157.2 492.0,158.0 492.7,156.9 493.3,157.0 493.9,154.9 494.3,156.3 495.1,154.1 495.7,155.4 496.2,153.5 496.8,154.6 497.5,153.0 498.1,154.0 498.8,151.3 499.5,152.6"/><polyline stroke="#f20c0c" stroke-width="1.0" points="500.0,150.3 500.4,151.7 500.9,148.5 501.3,151.4 501.8,147.2 502.4,148.7 502.8,146.1 503.3,147.1 503.8,145.8 504.5,145.8 505.1,143.1 505.8,144.6 506.3,142.5 506.9,143.7 507.5,139.5 507.9,142.7 508.5,138.5 509.0,142.5 509.4,138.7 509.9,140.7 510.3,138.3 510.8,139.7 511.4,137.6 511.8,138.7 512.5,135.0 512.9,137.9 513.4,135.4 514.1,136.2 514.5,133.7 515.1,135.5 515.8,132.5 516.3,133.7 516.9,131.0 517.4,133.1 517.9,130.0 518.6,132.6 519.2,130.2 519.7,130.9 520.3,127.9 520.9,131.1 521.5,128.2 522.1,129.2 522.7,126.5 523.3,129.3 524.0,126.6 524.4,127.6 525.0,125.4 525.6,127.0 526.1,123.6 526.5,125.6 527.1,122.1 527.6,125.1 528.2,121.6 528.7,123.3 529.2,120.1 529.8,123.0 530.4,120.2 530.9,121.7 531.4,118.6 532.1,120.2 532.6,117.3 533.3,119.5 533.9,115.6 534.6,117.4 535.3,115.9 535.8,116.9 536.5,114.6 536.9,117.2 537.5,113.5 538.0,114.7 538.4,112.5 538.9,114.4 539.6,110.4 540.1,113.1 540.5,110.6 540.9,112.0 541.6,110.0 542.3,111.3 542.7,109.2 543.3,110.6 543.9,108.6"/><polyline stroke="#f20c0c" stroke-width="1.0" points="544.6,109.9 545.1,113.5 545.5,112.3 546.1,111.5 546.6,107.6 547.2,107.7 547.8,104.6 548.4,108.9 548.8,104.6 549.2,105.3 549.8,103.3 550.4,107.0 550.9,99.3 551.5,104.0 552.1,101.3 552.6,103.2 553.2,100.2 553.8,104.3 554.4,98.2 555.0,102.7 555.4,95.4 555.7,98.9 556.2,96.4 556.7,100.7 557.1,94.4 557.6,96.7 558.2,91.7 558.7,97.7 559.1,91.5 559.8,95.2 560.2,91.8 560.7,93.8 561.2,89.1 561.5,91.5 562.0,88.1 562.6,89.9 563.0,85.7 563.4,88.1 564.0,84.1 564.5,87.0 565.1,82.4 565.8,92.0 566.2,85.9 566.6,88.5 567.1,84.7 567.7,84.7 568.1,78.8 568.4,84.4 568.9,80.6 569.3,84.4 569.8,79.1 570.4,80.1 570.8,78.4 571.3,80.1 571.8,76.1 572.5,77.7 572.8,75.0 573.4,77.3 573.8,72.8"/>
<polyline stroke="#0c0cf2" points="47.3,191.1 50.6,190.1 53.9,188.8 54.4,188.9 54.8,186.7 55.3,188.6 55.7,186.1 56.2,187.7 56.5,186.4 56.9,185.9 57.5,189.2 57.9,188.5 58.3,187.8 58.7,189.0 59.1,187.1 59.6,188.6 60.1,186.7 60.5,187.2 60.9,186.0 61.5,187.8 61.9,185.2 62.5,186.1 63.0,189.5 63.5,190.7 63.9,190.1 64.3,185.8 64.8,184.8 65.2,185.4 65.8,183.1 66.4,183.5 66.8,189.0 67.3,191.0 67.8,197.3 68.3,191.4 68.7,188.8 69.1,183.5 69.6,181.4 70.0,183.4 70.4,181.5 70.9,184.0 71.3,183.5 71.7,185.5 72.2,185.3 72.5,182.0 73.0,181.9 73.5,182.0 73.9,185.2 74.3,184.4 75.0,186.8 75.4,186.7 75.8,183.3 76.3,182.2 76.7,183.7 77.2,183.5 77.6,185.8 78.0,186.1 78.4,186.0 78.8,183.6 79.2,184.9 79.6,183.5 80.0,182.4 80.4,184.6 80.8,183.3 81.3,185.2 81.6,184.8 82.0,182.9 82.5,184.4 83.0,180.9 83.3,181.5 83.7,181.7 84.2,184.1 84.6,187.6 85.0,194.7 85.2,196.7 85.7,194.2 86.0,194.7 86.5,197.9 86.9,201.9 87.3,197.1 87.7,193.8 88.2,187.4 88.7,190.1 89.2,189.7 89.5,191.4 89.9,193.9 90.4,193.5 90.8,196.0 91.2,195.7 91.6,193.6 92.0,195.0 92.2,193.4 92.6,190.6 93.0,190.0 93.5,186.1 93.9,185.8 94.4,182.6 94.9,183.7 95.2,182.2 95.7,182.7 96.1,185.5 96.5,184.7 96.8,186.8 97.3,186.7 97.7,183.2 98.1,183.5 98.5,182.1 98.9,178.0 99.2,177.5 99.6,180.9 100.1,188.1 100.5,190.3 100.9,190.6 101.4,193.4 101.8,196.3 102.2,197.6 102.5,200.0 103.0,197.0 103.4,196.3 103.6,194.7 104.1,191.5 104.4,187.4 104.9,193.6 105.4,198.0 105.8,197.9 106.2,201.1 106.7,201.3 107.2,200.8 107.7,196.9 108.0,196.7 108.4,198.1 108.9,201.3 109.4,201.9 109.8,199.4 110.3,200.2 110.6,199.3 111.0,196.4 111.7,194.7 112.2,197.4 112.6,201.3 113.1,201.9 113.5,200.1 114.0,201.7 114.6,200.0 115.0,201.9 115.4,200.2 115.8,203.5 116.3,201.8 116.6,203.9 117.1,203.2 117.4,205.2 117.9,203.7 118.4,205.5 118.6,204.6 119.1,206.4 119.5,204.5 120.0,207.6 120.5,207.2 123.2,209.2 126.5,211.8 129.8,213.8 132.0,214.4 134.0,214.0 136.1,213.0 139.0,210.5 142.3,207.5 146.0,204.3 149.8,201.2 157.0,196.5 164.8,192.2 172.0,188.7 179.8,185.3 188.0,182.5 194.8,180.5 197.3,179.6 200.0,179.9 203.0,181.2 205.0,182.4 207.5,185.0 209.2,187.4 211.0,184.5 213.7,181.2 216.0,180.3 218.7,179.9 220.5,181.2 222.5,176.9 226.0,174.8 230.0,173.2 236.0,171.8 242.4,170.7 250.0,168.8 257.4,166.9 266.0,165.3 274.9,163.7 285.0,161.2 294.9,158.7 298.6,157.0 302.0,156.8 309.8,155.0 317.0,153.7 324.8,152.3 332.0,150.6 338.1,149.3 339.6,148.3 343.1,147.9 343.7,148.0 344.2,147.1 344.7,147.8 345.2,146.8 345.7,147.2 346.1,146.6 346.6,146.0 347.1,145.1 347.6,146.5 348.1,146.6 348.5,146.9 349.0,145.7 349.5,146.2 350.1,145.6 350.6,143.6 351.1,144.1 351.6,145.6 352.0,145.6 352.4,144.8 353.0,145.3 353.6,144.2 354.1,144.3 354.6,143.5 355.0,143.8 355.6,143.1 356.0,143.5 356.5,142.4 357.1,143.4 357.5,142.4 358.1,142.6 358.6,142.0 359.1,142.3 359.6,140.9 360.1,141.3 360.6,140.1 361.1,140.0 361.6,141.3 362.1,141.5 362.7,140.9 363.2,141.7 363.7,140.6 364.1,141.5 364.6,140.5 365.1,140.8 365.7,141.2 366.1,140.5 366.6,141.3 367.1,141.0 368.7,141.5 369.1,138.9 369.5,134.0 369.9,137.1 370.2,141.0 370.6,139.4 371.2,141.8 371.6,139.1 372.2,140.5 372.6,138.2 373.2,136.5 373.6,136.2 374.2,139.0 374.7,138.5 375.4,135.5 375.8,137.8 376.3,135.9 376.7,138.0 377.2,139.0 377.7,135.6 378.2,136.5 378.6,137.9 379.0,135.9 379.4,138.6 380.0,137.3 380.4,137.4 381.0,135.2 381.3,136.2 381.7,134.8 382.2,136.8 382.7,134.9 383.0,136.5 383.5,136.2 384.0,138.2 384.3,137.8 384.8,136.3 385.2,137.3 385.7,135.0 386.1,135.2 386.5,131.7 386.9,131.5 387.5,127.3 387.9,130.3 388.3,138.4 388.7,140.6 389.1,146.6 389.5,143.0 390.0,135.4 390.5,130.8 390.9,135.9 391.5,138.6 391.9,144.0 392.4,140.6 392.9,132.3 393.1,130.8 393.6,133.0 394.1,137.8 394.6,139.2 394.9,142.2 395.3,139.5 395.6,140.2 396.1,137.3 396.6,136.1 397.1,137.3 397.6,142.3 398.1,143.9 398.4,146.6 398.9,144.3 399.2,145.2 399.8,141.7 400.1,142.2 400.6,148.1 401.0,151.5 401.4,157.0 401.9,161.6 402.3,155.5 402.7,151.3 403.1,144.9 403.6,147.8 404.0,146.8 404.5,150.1 404.9,150.1 405.3,147.2 405.8,147.3 406.3,144.0 406.8,148.2 407.2,148.4 407.7,152.8 408.1,151.4 408.6,146.4 408.9,144.9 409.3,143.1 409.8,144.7 410.3,141.4 410.7,142.6 411.2,139.7 411.6,140.5 412.1,139.1 412.4,140.6 412.9,138.0 413.4,139.6 414.0,136.3 414.2,137.0 414.6,141.5 415.0,142.1 415.6,148.4 416.0,137.3 416.5,128.2 417.0,129.7 417.4,134.9 417.7,135.2 418.1,133.9 418.6,129.0 419.0,129.7 419.5,125.5 420.0,127.1 420.4,131.3 420.7,131.7 421.1,130.4 421.5,131.8 422.1,129.9 422.5,128.7 422.9,123.3 423.4,122.7 423.9,117.6 424.3,119.6 424.7,124.9 425.3,129.0 425.7,124.9 426.1,123.9 426.5,119.4 426.9,121.2 427.3,126.5 427.8,129.0 428.2,129.8 428.6,127.6 429.1,129.8 429.5,127.0 430.1,128.2 430.5,128.3 431.0,132.9 431.3,133.4 431.8,133.9 432.3,131.1 432.7,131.9 433.1,129.9 433.6,129.9 434.0,129.4 434.5,133.2 434.9,132.5 435.3,134.3 435.8,133.0 436.3,128.7 436.7,129.6 437.1,126.4 437.6,126.4 438.0,130.0 438.5,128.5 438.9,130.8 439.3,129.1 439.7,130.2 440.1,127.6 440.6,129.2 441.1,126.4 441.5,126.4 441.9,128.1 442.3,127.0 442.7,129.9 443.3,129.9 443.7,127.5 444.2,128.8 444.7,126.1 445.2,127.2 445.9,124.6 446.4,127.2 446.8,125.5 447.3,128.0 447.7,128.2 448.2,127.7 448.6,123.8 449.1,124.2 449.5,120.2 449.9,120.2 450.3,124.3 450.8,126.4 451.3,124.6 451.6,126.8 452.2,124.2 452.6,126.9 453.0,124.0 453.3,125.8 453.7,124.2 454.2,125.7 454.6,123.1 454.9,125.3 455.4,122.9 455.6,123.8 462.6,121.3 468.8,119.0 471.7,120.2 474.3,125.5 477.8,131.7 480.5,132.6 483.6,138.4 485.8,137.0 491.0,132.6 496.3,129.0 500.1,124.1 503.1,121.6 505.5,119.0 508.1,116.1 510.2,113.0 512.1,110.0 514.6,107.5 517.0,106.6 519.1,106.0 522.2,104.0 522.6,102.6 523.0,105.3 523.4,102.1 523.8,104.3 524.0,103.0 524.6,105.5 525.0,104.9 525.4,102.5 525.7,104.0 526.2,100.5 526.6,102.6 527.0,100.0 527.4,101.7 527.7,100.5 528.2,101.3 528.5,98.5 529.0,100.7 529.5,98.3 529.9,98.7 530.4,96.1 531.0,96.4 531.4,99.1 531.8,98.2 532.3,101.0 532.8,98.6 533.2,100.0 533.7,95.6 534.1,97.8 534.3,95.8 534.7,97.9 535.1,95.1 535.6,98.2 536.0,95.5 536.3,97.3 536.7,98.7 537.1,96.0 537.6,98.7 538.0,95.4 538.3,97.1 538.7,98.2 539.2,94.8 539.6,96.8 540.0,94.2 540.3,96.7 540.9,94.4 541.3,95.8 541.8,94.5 542.2,97.3 542.6,94.8 543.0,97.8 543.5,97.7 543.8,97.5 544.2,101.3 544.6,100.2 544.9,103.0 545.4,98.3 545.9,90.5 546.3,94.0 546.8,99.7 547.2,100.4 547.6,97.5 548.2,98.0 548.6,100.3 548.9,98.1 549.5,99.7 550.0,98.7 550.3,101.9 550.8,99.3 551.1,101.9 551.5,101.0 551.9,98.3 552.4,98.8 552.8,93.5 553.2,93.1 553.6,94.0 553.9,98.4 554.4,99.9 554.8,103.7 555.2,104.8 555.7,103.6 556.1,106.3 556.5,103.7 556.7,105.7 557.2,105.1 557.7,101.5 558.0,102.0 558.4,98.0 558.7,98.4 559.2,98.5 559.7,100.9 560.1,100.0 560.5,101.5 560.9,101.2 561.3,103.9 561.7,101.8 562.0,103.0 562.4,106.0 562.9,105.4 563.3,107.6 563.6,103.3 564.1,100.5 564.7,93.1 565.2,101.1 565.6,103.2 566.0,110.3 566.4,105.6 566.7,98.7 567.0,95.8 567.5,105.4 568.0,114.2 568.5,109.2 568.9,102.6 569.5,95.8 570.0,96.8 570.5,101.9 571.0,102.5 571.3,105.0 571.7,105.9 572.1,102.7 572.5,105.6 572.9,102.8 573.2,104.4 573.6,102.1 573.9,103.0 574.4,98.5 574.8,98.5 575.2,93.6 575.6,93.4 575.9,91.1 576.3,92.6 576.7,97.9 577.2,101.0"/>
<polyline stroke="#0c0cf2" stroke-width="1.0" points="55.0,186.4 55.5,189.2 55.9,186.4 56.4,187.4 57.0,185.1 57.5,189.6 58.1,187.8 58.6,188.8 59.2,187.3 59.8,188.1 60.3,186.3 60.8,189.6 61.2,186.3 61.8,188.0 62.2,183.1 62.8,188.0 63.3,189.0 63.7,191.5 64.1,185.9 64.5,186.9 65.1,183.4 65.5,185.9 66.0,182.7 66.4,185.7 67.0,186.7 67.6,196.3 68.0,192.6 68.6,189.4 69.0,183.3 69.5,185.3 70.0,181.6 70.6,183.4 71.1,183.0 71.6,186.3 72.2,183.6 72.7,183.4 73.3,182.0 73.7,184.6 74.2,184.4 74.7,186.9 75.2,184.9 75.8,185.4 76.4,181.8 77.1,185.0 77.5,182.6 78.1,186.4 78.5,182.9 79.0,185.3 79.3,183.4 79.9,186.8 80.5,182.6 80.9,185.3 81.5,182.2 82.0,184.8 82.5,181.7 83.0,182.8 83.7,179.8 84.1,184.6 84.7,189.3 85.3,197.9 85.9,192.9 86.3,197.9 86.7,198.4 87.3,198.3 87.9,189.6 88.3,189.0 89.0,188.1 89.5,194.3 90.1,191.4 90.6,197.0 91.2,192.8 91.8,195.3 92.2,191.1 92.7,190.9 93.3,184.4 93.9,188.0 94.5,182.2 95.1,183.6 95.5,181.9 95.9,187.2 96.5,184.3 97.0,186.9 97.5,182.9 98.0,184.6 98.5,180.5 99.0,179.1 99.4,178.9 100.0,188.7 100.5,186.8 101.0,192.1 101.5,192.5 101.9,198.1 102.3,198.1 102.8,201.7 103.1,196.0 103.5,195.7 104.0,190.0 104.7,191.5 105.2,195.4 105.7,200.5 106.3,199.5 106.8,203.6 107.4,198.1 107.9,199.3 108.4,196.6 108.9,204.4 109.4,198.7 109.9,202.3 110.3,198.2 110.8,199.4 111.2,196.1 111.7,195.5 112.1,195.0 112.5,203.5 113.0,199.9 113.6,203.4 114.1,199.7 114.6,202.6 115.2,198.7 115.6,203.8 116.1,201.7 116.5,204.9 117.0,201.6 117.4,204.9 117.8,201.2 118.3,205.0 118.9,202.4 119.5,206.9 120.1,205.7 120.5,209.9 121.1,206.9 121.7,208.6"/><polyline stroke="#0c0cf2" stroke-width="1.0" points="345.0,146.8 345.5,147.2 346.2,146.0 346.6,146.1 347.2,143.8 347.8,146.5 348.5,145.6 349.1,146.9 349.7,144.5 350.3,145.7 350.9,143.2 351.5,146.0 352.1,144.2 352.6,146.6 353.2,143.4 353.9,146.0 354.5,143.3 355.1,144.4 355.8,141.7 356.3,143.2 356.7,142.6 357.2,143.0 357.7,142.4 358.3,143.4 359.1,140.1 359.8,142.7 360.2,140.4 361.0,140.8 361.5,139.3 362.0,142.2 362.6,141.0 363.0,142.2 363.8,139.4 364.5,142.5 365.0,140.3 365.8,141.8 366.4,140.7 366.9,141.7"/><polyline stroke="#0c0cf2" stroke-width="1.0" points="367.6,138.3 368.2,142.5 368.6,138.5 369.3,137.6 369.7,133.9 370.2,142.2 370.6,139.6 371.2,141.4 371.7,137.2 372.2,141.2 372.7,137.8 373.3,138.8 373.7,136.0 374.2,140.8 374.7,136.5 375.1,139.8 375.6,134.2 376.1,137.6 376.6,136.9 377.0,138.9 377.5,133.9 377.9,137.9 378.4,135.3 378.9,139.0 379.3,134.8 379.7,138.1 380.3,133.3 380.8,136.8 381.3,134.4 381.9,136.0 382.3,133.5 382.9,138.3 383.4,133.5 383.9,140.7 384.3,136.3 384.8,139.5 385.4,135.4 385.9,138.0 386.4,131.5 386.9,133.1 387.4,127.1 387.7,133.0 388.3,135.7 388.9,147.8 389.3,141.1 389.8,139.6 390.2,132.4 390.6,132.4 391.0,134.4 391.4,139.8 392.0,141.8 392.5,139.5 393.1,130.2 393.5,136.5 394.2,134.2 394.7,141.9 395.1,138.4 395.7,141.3 396.2,136.4 396.7,140.1 397.1,137.2 397.5,144.5 398.1,143.0 398.6,146.6 399.1,143.5 399.6,144.1 400.2,141.7 400.7,151.9 401.4,153.9 401.9,164.1 402.3,152.5 402.7,153.4 403.2,143.1 403.8,147.9 404.3,145.7 404.9,151.8 405.5,145.4 406.1,147.1 406.5,144.5 406.9,148.5 407.3,146.6 407.7,154.6 408.1,147.0 408.6,147.9 409.2,141.5 409.8,144.3 410.3,140.5 410.7,143.8 411.3,138.5 411.9,142.7 412.3,137.0 412.8,139.7 413.1,136.4 413.6,138.4 414.1,135.8 414.5,141.7 415.1,142.3 415.7,149.2 416.1,133.2 416.6,132.0 417.0,129.8 417.6,136.7 418.1,132.0 418.5,134.1 418.9,128.0 419.4,128.9 419.9,124.2 420.5,132.2 421.1,130.0 421.5,134.1 422.1,127.6 422.6,127.2 423.0,122.9 423.4,122.5 424.0,115.4 424.5,125.0 425.0,124.1 425.6,130.2 426.2,119.6 426.7,121.8 427.2,123.2 427.6,128.4 428.1,128.1 428.6,129.8 429.3,126.2 429.8,129.7 430.2,128.0 430.9,134.8 431.4,131.1 431.8,134.4 432.2,130.9 432.7,132.0 433.2,128.1 433.7,133.1 434.1,130.4 434.7,134.7 435.2,132.3 435.6,136.3 436.1,127.4 436.5,129.9 437.0,125.7 437.7,128.7 438.0,127.9 438.5,133.1 439.1,128.3 439.5,130.3 440.1,128.0 440.6,129.4 441.2,126.2 441.5,129.7 441.9,124.7 442.3,129.0 442.7,127.3 443.3,132.8 443.8,128.2 444.2,129.0 444.8,123.6 445.2,127.2 445.8,124.1 446.2,126.1 446.8,125.5 447.4,128.2 447.9,126.7 448.4,128.0 449.1,121.8 449.7,122.2 450.3,120.0 451.0,126.9 451.4,123.7"/><polyline stroke="#0c0cf2" stroke-width="1.0" points="524.0,102.5 524.6,106.2 525.0,103.6 525.4,103.0 526.1,100.6 526.8,103.1 527.3,99.6 527.9,101.5 528.3,98.0 528.7,100.0 529.4,97.1 530.0,98.2 530.5,95.7 530.9,98.2 531.4,97.0 531.9,100.8"/><polyline stroke="#0c0cf2" stroke-width="1.0" points="532.0,99.1 532.4,101.6 532.9,95.3 533.3,100.3 533.7,96.1 534.2,96.9 534.6,94.9 535.0,97.1 535.6,94.0 536.3,100.5 536.9,96.2 537.2,101.3 537.8,94.3 538.2,100.3 538.7,96.0 539.1,100.3 539.6,95.0 540.0,98.3 540.5,93.0 540.9,95.3 541.4,93.4 541.8,96.4 542.3,95.4 542.6,98.4 543.0,94.2 543.6,100.7 544.2,99.5 544.7,103.8 545.1,97.6 545.4,100.6 546.0,87.1 546.3,98.6 547.0,96.4 547.5,101.3 548.0,94.8 548.5,100.5 549.0,96.6 549.5,103.6 550.1,98.8 550.7,101.5 551.2,98.8 551.7,100.6 552.1,97.2 552.7,96.5 553.2,89.6 553.7,97.1 554.2,98.1 554.7,103.7 555.2,102.8 555.9,106.7 556.4,101.6 557.1,105.0 557.7,101.3 558.3,102.9 558.8,95.7 559.3,101.1 559.8,98.6 560.4,104.0 560.7,99.3 561.3,105.8 561.8,100.7 562.2,104.6 562.8,105.1 563.4,107.2 563.9,99.2 564.2,99.6 564.8,93.3 565.2,100.8 565.9,107.8 566.4,106.7 566.9,95.8 567.4,104.3 567.8,107.3 568.2,113.1 568.7,102.2 569.3,100.8 569.9,95.7 570.3,101.8 570.7,99.1 571.2,105.2 571.7,101.4 572.2,106.9 572.5,103.1 573.0,105.6 573.3,99.5 573.8,103.7 574.2,99.2 574.7,101.2"/>
</g>
<g filter="url(#soft2)">
<rect x="43.4" y="0.4" width="4.7" height="323.2" fill="#000"/>
<rect x="43.4" y="318.9" width="536" height="4.7" fill="#000"/>
<rect x="43.95" y="321" width="4.6" height="14.8" fill="#000"/><rect x="51.83" y="321" width="4.0" height="8.7" fill="#000"/><rect x="59.42" y="321" width="4.0" height="8.7" fill="#000"/><rect x="67.00" y="321" width="4.0" height="8.7" fill="#000"/><rect x="74.58" y="321" width="4.0" height="8.7" fill="#000"/><rect x="82.17" y="321" width="4.0" height="8.7" fill="#000"/><rect x="89.75" y="321" width="4.0" height="8.7" fill="#000"/><rect x="97.34" y="321" width="4.0" height="8.7" fill="#000"/><rect x="104.92" y="321" width="4.0" height="8.7" fill="#000"/><rect x="112.50" y="321" width="4.0" height="8.7" fill="#000"/><rect x="119.79" y="321" width="4.6" height="14.8" fill="#000"/><rect x="127.67" y="321" width="4.0" height="8.7" fill="#000"/><rect x="135.25" y="321" width="4.0" height="8.7" fill="#000"/><rect x="142.84" y="321" width="4.0" height="8.7" fill="#000"/><rect x="150.42" y="321" width="4.0" height="8.7" fill="#000"/><rect x="158.00" y="321" width="4.0" height="8.7" fill="#000"/><rect x="165.59" y="321" width="4.0" height="8.7" fill="#000"/><rect x="173.17" y="321" width="4.0" height="8.7" fill="#000"/><rect x="180.75" y="321" width="4.0" height="8.7" fill="#000"/><rect x="188.34" y="321" width="4.0" height="8.7" fill="#000"/><rect x="195.62" y="321" width="4.6" height="14.8" fill="#000"/><rect x="203.51" y="321" width="4.0" height="8.7" fill="#000"/><rect x="211.09" y="321" width="4.0" height="8.7" fill="#000"/><rect x="218.67" y="321" width="4.0" height="8.7" fill="#000"/><rect x="226.26" y="321" width="4.0" height="8.7" fill="#000"/><rect x="233.84" y="321" width="4.0" height="8.7" fill="#000"/><rect x="241.42" y="321" width="4.0" height="8.7" fill="#000"/><rect x="249.01" y="321" width="4.0" height="8.7" fill="#000"/><rect x="256.59" y="321" width="4.0" height="8.7" fill="#000"/><rect x="264.17" y="321" width="4.0" height="8.7" fill="#000"/><rect x="271.46" y="321" width="4.6" height="14.8" fill="#000"/><rect x="279.34" y="321" width="4.0" height="8.7" fill="#000"/><rect x="286.92" y="321" width="4.0" height="8.7" fill="#000"/><rect x="294.51" y="321" width="4.0" height="8.7" fill="#000"/><rect x="302.09" y="321" width="4.0" height="8.7" fill="#000"/><rect x="309.68" y="321" width="4.0" height="8.7" fill="#000"/><rect x="317.26" y="321" width="4.0" height="8.7" fill="#000"/><rect x="324.84" y="321" width="4.0" height="8.7" fill="#000"/><rect x="332.43" y="321" width="4.0" height="8.7" fill="#000"/><rect x="340.01" y="321" width="4.0" height="8.7" fill="#000"/><rect x="347.29" y="321" width="4.6" height="14.8" fill="#000"/><rect x="355.18" y="321" width="4.0" height="8.7" fill="#000"/><rect x="362.76" y="321" width="4.0" height="8.7" fill="#000"/><rect x="370.34" y="321" width="4.0" height="8.7" fill="#000"/><rect x="377.93" y="321" width="4.0" height="8.7" fill="#000"/><rect x="385.51" y="321" width="4.0" height="8.7" fill="#000"/><rect x="393.09" y="321" width="4.0" height="8.7" fill="#000"/><rect x="400.68" y="321" width="4.0" height="8.7" fill="#000"/><rect x="408.26" y="321" width="4.0" height="8.7" fill="#000"/><rect x="415.85" y="321" width="4.0" height="8.7" fill="#000"/><rect x="423.13" y="321" width="4.6" height="14.8" fill="#000"/><rect x="431.01" y="321" width="4.0" height="8.7" fill="#000"/><rect x="438.60" y="321" width="4.0" height="8.7" fill="#000"/><rect x="446.18" y="321" width="4.0" height="8.7" fill="#000"/><rect x="453.76" y="321" width="4.0" height="8.7" fill="#000"/><rect x="461.35" y="321" width="4.0" height="8.7" fill="#000"/><rect x="468.93" y="321" width="4.0" height="8.7" fill="#000"/><rect x="476.51" y="321" width="4.0" height="8.7" fill="#000"/><rect x="484.10" y="321" width="4.0" height="8.7" fill="#000"/><rect x="491.68" y="321" width="4.0" height="8.7" fill="#000"/><rect x="498.96" y="321" width="4.6" height="14.8" fill="#000"/><rect x="506.85" y="321" width="4.0" height="8.7" fill="#000"/><rect x="514.43" y="321" width="4.0" height="8.7" fill="#000"/><rect x="522.02" y="321" width="4.0" height="8.7" fill="#000"/><rect x="529.60" y="321" width="4.0" height="8.7" fill="#000"/><rect x="537.18" y="321" width="4.0" height="8.7" fill="#000"/><rect x="544.77" y="321" width="4.0" height="8.7" fill="#000"/><rect x="552.35" y="321" width="4.0" height="8.7" fill="#000"/><rect x="559.93" y="321" width="4.0" height="8.7" fill="#000"/><rect x="567.52" y="321" width="4.0" height="8.7" fill="#000"/><rect x="574.80" y="321" width="4.6" height="14.8" fill="#000"/>
<text x="46.2" y="363" text-anchor="middle" font-size="24.1" font-weight="bold">4000</text><text x="122.1" y="363" text-anchor="middle" font-size="24.1" font-weight="bold">3500</text><text x="197.9" y="363" text-anchor="middle" font-size="24.1" font-weight="bold">3000</text><text x="273.8" y="363" text-anchor="middle" font-size="24.1" font-weight="bold">2500</text><text x="349.6" y="363" text-anchor="middle" font-size="24.1" font-weight="bold">2000</text><text x="425.4" y="363" text-anchor="middle" font-size="24.1" font-weight="bold">1500</text><text x="501.3" y="363" text-anchor="middle" font-size="24.1" font-weight="bold">1000</text><text x="577.1" y="363" text-anchor="middle" font-size="24.1" font-weight="bold">500</text>
<text transform="translate(311.5,402.2) scale(1,1.045)" text-anchor="middle" font-size="26.5" font-weight="bold">Wave number (cm-1)</text>
<text transform="translate(20.6,176.6) rotate(-90) scale(1,1.045)" text-anchor="middle" font-size="26.6" font-weight="bold">Transmittance (%)</text>
<line x1="131.2" y1="124.3" x2="131.2" y2="161.2" stroke="#000" stroke-width="1.5"/><polygon points="124.69999999999999,160.2 137.7,160.2 131.2,174.9" fill="#000"/>
<line x1="210" y1="76.2" x2="210" y2="110.7" stroke="#000" stroke-width="1.5"/><polygon points="203.65,109.7 216.35,109.7 210,124.9" fill="#000"/>
<line x1="403.6" y1="7.9" x2="403.6" y2="39.6" stroke="#000" stroke-width="1.5"/><polygon points="397.25,38.6 409.95000000000005,38.6 403.6,53.5" fill="#000"/>
<line x1="486.3" y1="11.3" x2="486.3" y2="42.2" stroke="#000" stroke-width="1.5"/><polygon points="479.95,41.2 492.65000000000003,41.2 486.3,56.2" fill="#000"/>
<line x1="562.9" y1="12.7" x2="562.9" y2="38.6" stroke="#000" stroke-width="1.5"/><polygon points="556.55,37.6 569.25,37.6 562.9,51.7" fill="#000"/>
<ellipse cx="421.3" cy="64.85" rx="10.05" ry="11.4" fill="none" stroke="#000" stroke-width="1.3"/>
<line x1="613" y1="54.3" x2="647.5" y2="54.3" stroke="#0c0cf2" stroke-width="1.9"/>
<line x1="611.8" y1="93.75" x2="645.8" y2="93.75" stroke="#f20c0c" stroke-width="1.9"/>
<line x1="613" y1="130.4" x2="647.5" y2="130.4" stroke="#16b816" stroke-width="1.9"/>
<text transform="translate(666.5,64.3) scale(1,1.03)" font-size="26.8">A</text>
<text transform="translate(664.9,103.4) scale(1,1.03)" font-size="26.8">B</text>
<text transform="translate(666.6,140.4) scale(1,1.03)" font-size="26.8">C</text>
</g>
</svg>
</body></html>
